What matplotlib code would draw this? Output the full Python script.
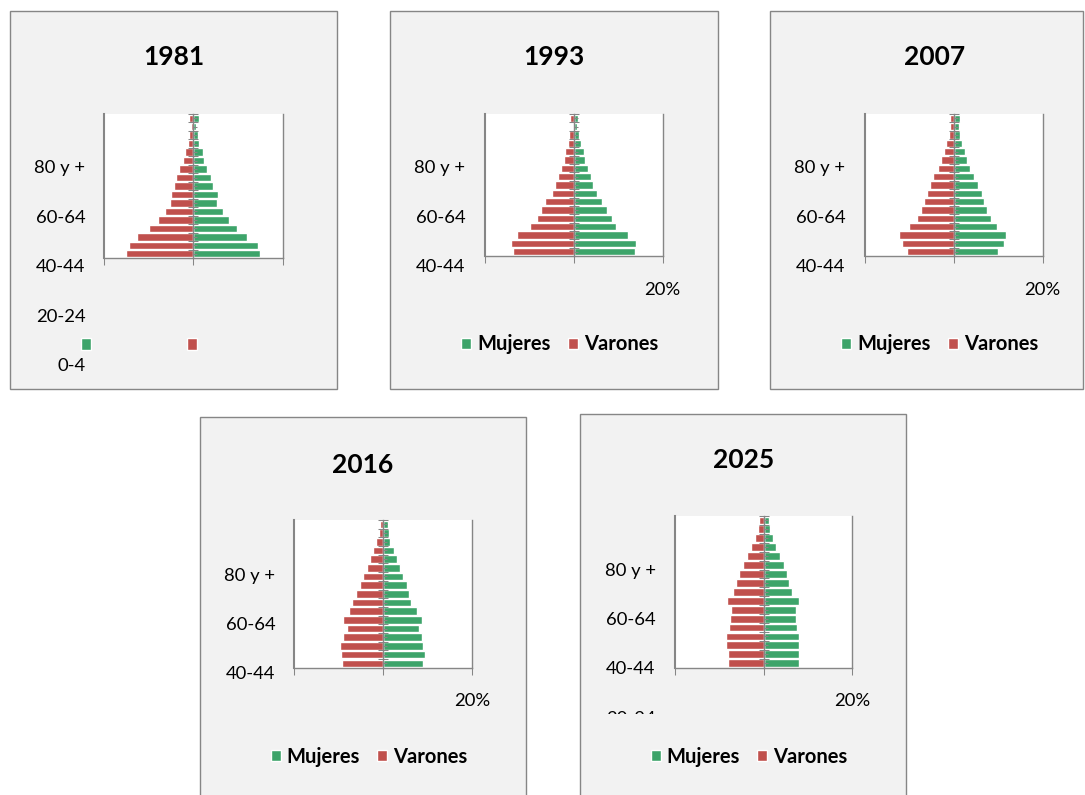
import numpy as np
import matplotlib
matplotlib.use('Agg')
import matplotlib.pyplot as plt
from matplotlib.patches import Rectangle
from matplotlib.transforms import blended_transform_factory

plt.rcParams['font.family'] = ['Lato', 'DejaVu Sans']

W, H = 1085, 795

# ---------------- data ----------------
age_groups = ['0-4', '5-9', '10-14', '15-19', '20-24', '25-29', '30-34', '35-39',
              '40-44', '45-49', '50-54', '55-59', '60-64', '65-69', '70-74',
              '75-79', '80 y +']
shown_labels = ['0-4', '20-24', '40-44', '60-64', '80 y +']
years = ['1981', '1993', '2007', '2016', '2025']
series_names = ['Mujeres', 'Varones']
pct_label = '20%'

# % of each sex, from 0-4 (bottom) up to 80 y + (top)
varones_1981 = [15.1, 14.4, 12.7, 10.0, 8.0, 6.4, 5.2, 4.9, 4.4, 3.8, 3.1, 2.2, 1.9, 1.2, 0.9, 0.4, 1.0]
mujeres_1981 = [15.0, 14.4, 12.0, 9.7, 8.1, 6.6, 5.3, 5.6, 4.5, 4.0, 3.1, 2.3, 2.1, 1.3, 1.1, 0.7, 1.3]
varones_1993 = [13.7, 14.2, 12.8, 9.9, 8.2, 7.3, 6.4, 5.0, 4.2, 3.6, 3.0, 2.2, 2.0, 1.3, 1.0, 0.3, 0.8]
mujeres_1993 = [13.7, 13.9, 12.1, 9.4, 8.7, 7.4, 6.3, 5.3, 4.3, 3.8, 3.2, 2.5, 2.3, 1.6, 1.2, 0.7, 0.9]
varones_2007 = [10.6, 11.7, 12.5, 10.1, 8.3, 7.5, 6.7, 6.2, 5.5, 4.8, 3.7, 2.9, 2.3, 1.9, 1.2, 1.0, 1.0]
mujeres_2007 = [10.0, 11.2, 11.8, 9.6, 8.3, 7.5, 6.8, 6.4, 5.5, 4.5, 3.7, 2.85, 2.4, 1.9, 1.3, 1.05, 1.35]
varones_2016 = [9.2, 9.5, 9.6, 9.1, 8.1, 9.1, 7.7, 6.9, 6.1, 5.2, 4.6, 3.7, 2.9, 2.2, 1.5, 0.9, 0.7]
mujeres_2016 = [9.0, 9.4, 9.1, 8.8, 8.1, 8.8, 7.6, 6.4, 5.8, 5.3, 4.5, 3.9, 3.1, 2.4, 1.6, 1.3, 1.2]
varones_2025 = [8.1, 8.0, 8.4, 8.4, 7.8, 7.6, 7.3, 8.2, 6.8, 6.1, 5.5, 4.6, 3.7, 2.85, 1.95, 1.3, 1.05]
mujeres_2025 = [7.9, 8.0, 8.1, 8.0, 7.6, 7.4, 7.3, 8.1, 6.5, 5.8, 5.3, 4.6, 3.8, 2.9, 2.2, 1.5, 1.35]

varones = [varones_1981, varones_1993, varones_2007, varones_2016, varones_2025]
mujeres = [mujeres_1981, mujeres_1993, mujeres_2007, mujeres_2016, mujeres_2025]

# ---------------- layout (pixels) ----------------
boxes = [(10, 11, 337, 389), (390, 11, 718, 389), (770, 11, 1083, 389),
         (200, 417, 526, 800), (580, 414, 906, 800)]
plots = [(104, 114, 282.5, 258), (485, 114, 662.7, 256), (865.3, 114, 1042.7, 256),
         (294, 520, 472, 667.7), (674.7, 516, 852.3, 667.7)]
titles_xy = [(174, 57), (554, 57), (935, 57), (363, 465), (744, 460)]
label_top80 = [168.5, 168.5, 168.5, 575.5, 570.5]
label_clip = [389, 300, 300, 715, 714]
legend_xy = [(80.7, 345), (461, 344.5), (841, 344.5), (270.7, 756.7), (650.7, 756.7)]
show_pct = [False, True, True, True, True]
show_legend_text = [False, True, True, True, True]
label_step = 12.35

GREEN = '#3da46a'
RED = '#c0504d'
GREY = '#868686'
BG = '#f2f2f2'

fig = plt.figure(figsize=(W / 100, H / 100), dpi=100)
fig.patch.set_facecolor('white')


def ax_at(x0, y0, x1, y1):
    return fig.add_axes([x0 / W, 1 - y1 / H, (x1 - x0) / W, (y1 - y0) / H])


n = len(age_groups)
ypos = np.arange(n)

for k, year in enumerate(years):
    bx0, by0, bx1, by1 = boxes[k]
    fig.patches.append(Rectangle((bx0 / W, 1 - by1 / H), (bx1 - bx0) / W, (by1 - by0) / H,
                                 transform=fig.transFigure, fc=BG, ec=GREY, lw=1.0, zorder=-5))
    tx, ty = titles_xy[k]
    fig.text(tx / W, 1 - ty / H, year, ha='center', va='center',
             fontsize=19, fontweight='bold', color='black')

    # main pyramid
    ax = ax_at(*plots[k])
    ax.set_facecolor('white')
    bm = ax.barh(ypos, mujeres[k], height=0.88, color=GREEN, edgecolor='white', lw=1.0,
                 label=series_names[0], zorder=1)
    bv = ax.barh(ypos, -np.array(varones[k]), height=0.88, color=RED, edgecolor='white', lw=1.0,
                 label=series_names[1], zorder=1)
    ax.set_xlim(-20, 20)
    ax.set_ylim(-0.5, n - 0.5)
    ax.spines['top'].set_visible(False)
    ax.spines['left'].set_position(('data', 0))
    for s in ['left', 'right', 'bottom']:
        ax.spines[s].set_color(GREY)
        ax.spines[s].set_linewidth(1.0)
    ax.axvline(-20, color=GREY, lw=1.5, clip_on=False)
    ax.set_xticks([-20, 0, 20])
    ax.set_xticklabels(['', '', pct_label if show_pct[k] else ''])
    ax.tick_params(axis='x', direction='out', length=5, width=0.75, color=GREY,
                   pad=13.5, labelsize=13.3, labelcolor='black')
    ax.set_yticks(np.arange(n + 1) - 0.5)
    ax.set_yticks(ypos, minor=True)
    ax.tick_params(axis='y', which='major', direction='inout', length=7, width=0.75,
                   color=GREY, labelleft=False)
    ax.tick_params(axis='y', which='minor', direction='in', length=3, width=0.75,
                   color=GREY, labelleft=False)

    # category labels (offset scale, clipped)
    y80 = label_top80[k]
    y04 = y80 + (n - 1) * label_step
    top_px = y80 - 20
    clip_px = label_clip[k]
    axl = ax_at(bx0 + 2, top_px, bx0 + 75.5, clip_px)
    axl.set_ylim((y04 - clip_px) / label_step, (y04 - top_px) / label_step)
    axl.set_xlim(0, 1)
    axl.axis('off')
    tr = blended_transform_factory(axl.transAxes, axl.transData)
    for lab in shown_labels:
        axl.text(1, age_groups.index(lab), lab, transform=tr, ha='right', va='center',
                 fontsize=13.3, color='black', clip_on=True)

    # legend
    lx, ly = legend_xy[k]
    leg = fig.legend([bm, bv], series_names, loc='center left',
                     bbox_to_anchor=(lx / W, 1 - ly / H), ncol=2, frameon=False,
                     borderaxespad=0, borderpad=0, handlelength=0.5, handleheight=0.5,
                     handletextpad=0.3, columnspacing=0.85,
                     prop={'family': ['Lato', 'DejaVu Sans'], 'weight': 'bold', 'size': 14.5})
    if not show_legend_text[k]:
        for t in leg.get_texts():
            t.set_color((0, 0, 0, 0))

fig.savefig('out.png', dpi=100)
